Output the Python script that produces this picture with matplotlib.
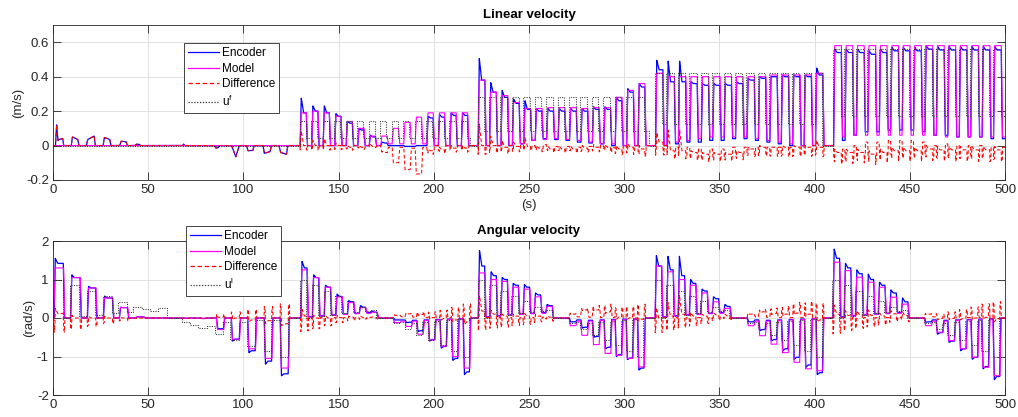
import numpy as np
import matplotlib
matplotlib.use('Agg')
import matplotlib.pyplot as plt

# ======================= DATA: linear velocity (top) =======================
# encoder trace before the pulse segments (model is 0 there)
LIN_PRE_T = [0.0, 1.3, 1.9, 2.6, 3.3, 4.6, 5.1, 5.6,
             9.6, 10.2, 13.0, 13.6,
             17.5, 18.2, 21.6, 22.2,
             26.3, 27.0, 29.8, 30.4,
             35.0, 35.8, 38.4, 39.0,
             43.0, 43.8, 45.3, 45.9,
             68.0, 68.6, 69.2,
             84.8, 85.6, 86.8, 87.4,
             93.8, 96.0, 97.8,
             101.6, 102.4, 105.0, 105.6,
             110.3, 111.0, 114.0, 114.7,
             118.7, 119.5, 122.6, 123.3,
             128.0]
LIN_PRE_V = [0, 0, 0.12, 0.03, 0.035, 0.04, 0.04, 0,
             0, 0.05, 0.035, 0,
             0, 0.035, 0.055, 0,
             0, 0.047, 0.035, 0,
             0, 0.025, 0.022, 0,
             0, 0.008, 0.007, 0,
             0, 0.008, 0,
             0, -0.015, -0.012, 0,
             0, -0.065, 0,
             0, -0.03, -0.028, 0,
             0, -0.045, -0.035, 0,
             0, -0.04, -0.05, 0,
             0]

LIN_STARTS = [
    [129.5, 135.6, 141.6, 147.7, 153.7, 159.8, 165.8, 171.9, 177.9, 184.0, 190.0, 196.1, 202.1, 208.2, 214.2],
    [223.0, 229.0, 235.0, 241.0, 247.0, 253.0, 259.0, 265.0, 271.0, 277.0, 283.0, 289.0, 295.0, 301.0, 307.0],
    [316.2, 322.2, 328.2, 334.2, 340.2, 346.2, 352.2, 358.2, 364.2, 370.2, 376.2, 382.2, 388.2, 394.2, 400.2],
    [409.7, 415.7, 421.7, 427.7, 433.7, 439.7, 445.7, 451.7, 457.7, 463.7, 469.7, 475.7, 481.7, 487.7, 493.7],
]
LIN_DUR = [3.2, 3.5, 3.8, 4.0]
LIN_U_HIGH = [0.14, 0.28, 0.42, 0.56]
LIN_U_LOW = [0.044, 0.085, 0.125, 0.17]
LIN_U_OFF = [219.0, 313.0, 404.0, 500.0]

LIN_ENC_PEAK = [
    [0.275, 0.23, 0.23, 0.185, 0.14, 0.10, 0.06, 0.02, 0.0, -0.005, 0.0, 0.17, 0.18, 0.19, 0.19],
    [0.505, 0.365, 0.32, 0.27, 0.26, 0.215, 0.215, 0.215, 0.215, 0.215, 0.225, 0.225, 0.28, 0.33, 0.36],
    [0.495, 0.49, 0.49, 0.37, 0.36, 0.36, 0.36, 0.37, 0.39, 0.40, 0.40, 0.41, 0.41, 0.41, 0.45],
    [0.56, 0.56, 0.56, 0.55, 0.56, 0.57, 0.57, 0.57, 0.58, 0.575, 0.575, 0.575, 0.575, 0.575, 0.575],
]
LIN_ENC_SETTLE = [
    [0.19, 0.20, 0.19, 0.17, 0.13, 0.09, 0.05, 0.015, 0.0, -0.005, 0.0, 0.16, 0.165, 0.175, 0.175],
    [0.38, 0.31, 0.28, 0.245, 0.21, 0.20, 0.20, 0.20, 0.20, 0.20, 0.21, 0.21, 0.26, 0.31, 0.34],
    [0.44, 0.37, 0.37, 0.36, 0.35, 0.35, 0.35, 0.36, 0.38, 0.39, 0.40, 0.40, 0.40, 0.40, 0.41],
    [0.54, 0.54, 0.54, 0.53, 0.54, 0.55, 0.55, 0.55, 0.56, 0.555, 0.555, 0.555, 0.555, 0.555, 0.555],
]
LIN_ENC_LOW = [
    [0, 0, 0, 0, 0, 0, 0, 0, 0, -0.005, 0, 0, 0, 0, 0],
    [0, 0, 0, 0.01, 0.03, 0.04, 0.035, 0.03, 0.02, 0.015, 0.01, 0, 0, 0, 0],
    [0, 0.01, 0.02, 0.02, 0.03, 0.03, 0.04, 0.04, 0.03, 0.02, 0.01, 0, 0, 0, 0],
    [0.03, 0.06, 0.08, 0.08, 0.09, 0.09, 0.09, 0.08, 0.06, 0.06, 0.05, 0.05, 0.05, 0.04, 0.04],
]
LIN_MOD_LEVEL = [
    [0.19, 0.20, 0.19, 0.17, 0.14, 0.10, 0.055, 0.055, 0.10, 0.135, 0.165, 0.19, 0.19, 0.19, 0.19],
    [0.38, 0.31, 0.29, 0.25, 0.215, 0.215, 0.22, 0.22, 0.22, 0.215, 0.22, 0.22, 0.28, 0.32, 0.36],
    [0.42, 0.40, 0.40, 0.40, 0.40, 0.40, 0.40, 0.40, 0.40, 0.40, 0.41, 0.41, 0.41, 0.41, 0.42],
    [0.58, 0.58, 0.58, 0.58, 0.58, 0.58, 0.58, 0.58, 0.58, 0.58, 0.58, 0.58, 0.58, 0.58, 0.58],
]
LIN_MOD_LOW = [
    [0, 0, 0, 0, 0, 0, 0, 0.01, 0.01, 0.01, 0.01, 0, 0, 0, 0],
    [0, 0, 0, 0.01, 0.03, 0.035, 0.04, 0.035, 0.03, 0.02, 0.01, 0.01, 0, 0, 0],
    [0, 0.02, 0.03, 0.04, 0.05, 0.05, 0.05, 0.05, 0.04, 0.03, 0.02, 0.01, 0, 0, 0],
    [0.05, 0.06, 0.06, 0.06, 0.06, 0.06, 0.06, 0.06, 0.06, 0.05, 0.05, 0.05, 0.05, 0.05, 0.05],
]

# ======================= DATA: angular velocity (bottom) =======================
ANG_U0_T = [0.2, 5.1, 8.9, 13.9, 17.7, 22.1, 26.1, 30.9, 34.4, 38.7, 42.2, 46.6, 51.0, 55.4, 59.8,
            67.7, 72.0, 76.4, 80.8, 85.2, 89.2, 93.0, 97.5, 101.9, 105.9, 110.6, 114.5, 119.0, 123.2]
ANG_U0_V = [1.0, 0.0, 0.86, 0.05, 0.71, 0.08, 0.56, 0.12, 0.42, 0.15, 0.29, 0.23, 0.19, 0.25, 0.0,
            -0.1, -0.18, -0.27, -0.22, -0.41, -0.1, -0.57, -0.1, -0.72, -0.06, -0.86, -0.05, -1.0, 0.0]

ANG_PRE_STARTS = [0.3, 9.0, 17.8, 26.2, 34.6, 43.2, 69.0, 77.5, 85.6, 93.4, 102.0, 110.7, 119.1]
ANG_PRE_DURS = [4.8, 4.9, 4.3, 4.7, 4.2, 4.2, 2.0, 2.5, 3.6, 4.1, 3.9, 3.8, 4.1]
ANG_PRE_ENC_PEAK = [1.55, 1.12, 0.82, 0.57, 0.28, 0.03, -0.01, -0.015, -0.28, -0.6, -0.9, -1.2, -1.5]
ANG_PRE_ENC_SET = [1.42, 1.05, 0.78, 0.52, 0.27, 0.03, -0.01, -0.015, -0.28, -0.55, -0.85, -1.12, -1.45]
ANG_PRE_MOD = [1.3, 1.05, 0.78, 0.52, 0.27, 0.03, -0.005, -0.01, -0.3, -0.55, -0.8, -1.05, -1.3]

ANG_POS_STARTS = [
    [129.9, 136.0, 142.2, 148.3, 154.4, 160.6, 166.7],
    [223.1, 229.2, 235.0, 240.8, 246.7, 252.5, 258.6],
    [316.0, 322.1, 328.1, 334.0, 340.0, 346.0, 352.0],
    [409.4, 415.3, 421.3, 427.3, 433.2, 439.2, 445.3],
]
ANG_NEG_STARTS = [
    [178.6, 184.7, 190.8, 196.9, 203.0, 209.1, 215.2],
    [270.9, 277.0, 283.1, 289.2, 295.0, 300.8, 306.8],
    [364.4, 370.4, 376.4, 382.4, 388.4, 394.5, 400.5],
    [457.5, 463.6, 469.7, 475.8, 481.9, 487.6, 493.5],
]
ANG_DUR = [3.2, 3.3, 3.3, 3.4]

ANG_U_POS_HIGH = [1.0, 0.86, 0.71, 0.57, 0.43, 0.29, 0.2]
ANG_U_POS_LOW = [0.0, 0.06, 0.09, 0.12, 0.15, 0.19, 0.0]
ANG_U_NEG_HIGH = [-0.14, -0.29, -0.43, -0.57, -0.71, -0.86, -1.0]
ANG_U_NEG_LOW = [-0.1, -0.14, -0.1, -0.08, -0.05, -0.03, 0.0]

ANG_ENC_POS_PEAK = [[1.47, 1.12, 0.85, 0.62, 0.45, 0.32, 0.18],
                    [1.75, 1.2, 1.05, 0.9, 0.87, 0.65, 0.35],
                    [1.62, 1.6, 1.6, 1.0, 0.75, 0.55, 0.35],
                    [1.79, 1.42, 1.25, 1.14, 0.93, 0.73, 0.52]]
ANG_ENC_POS_SET = [[1.3, 1.05, 0.8, 0.56, 0.42, 0.28, 0.15],
                   [1.35, 1.1, 1.0, 0.85, 0.8, 0.6, 0.32],
                   [1.35, 1.25, 1.1, 0.9, 0.7, 0.5, 0.3],
                   [1.55, 1.3, 1.15, 1.0, 0.85, 0.65, 0.42]]
ANG_MOD_POS = [[1.25, 1.05, 0.8, 0.55, 0.4, 0.27, 0.15],
               [1.17, 1.0, 0.95, 0.8, 0.75, 0.55, 0.3],
               [1.35, 1.2, 1.0, 0.85, 0.65, 0.42, 0.25],
               [1.45, 1.23, 1.06, 0.93, 0.8, 0.54, 0.36]]
ANG_ENC_NEG_PEAK = [[-0.05, -0.12, -0.35, -0.6, -0.78, -1.1, -1.47],
                    [-0.1, -0.26, -0.5, -0.8, -1.0, -1.08, -1.35],
                    [-0.1, -0.33, -0.59, -0.85, -1.07, -1.28, -1.47],
                    [-0.11, -0.42, -0.63, -0.85, -1.07, -1.32, -1.6]]
ANG_ENC_NEG_SET = [[-0.05, -0.11, -0.33, -0.56, -0.74, -1.05, -1.4],
                   [-0.1, -0.24, -0.48, -0.76, -0.95, -1.04, -1.3],
                   [-0.1, -0.3, -0.56, -0.8, -1.02, -1.22, -1.42],
                   [-0.1, -0.38, -0.6, -0.8, -1.02, -1.26, -1.52]]
ANG_MOD_NEG = [[-0.12, -0.22, -0.42, -0.57, -0.73, -1.0, -1.3],
               [-0.2, -0.45, -0.69, -0.92, -0.97, -1.05, -1.27],
               [-0.2, -0.46, -0.68, -0.9, -1.15, -1.32, -1.37],
               [-0.2, -0.37, -0.59, -0.8, -1.02, -1.28, -1.5]]
ANG_ENC_POS_LOW = [0.03, 0.06, 0.08, 0.1, 0.12, 0.14, 0.0]
ANG_MOD_POS_LOW = [0.02, 0.05, 0.07, 0.09, 0.11, 0.12, 0.0]
ANG_ENC_NEG_LOW = [-0.05, -0.06, -0.05, -0.04, -0.03, -0.02, 0.0]
ANG_MOD_NEG_LOW = [-0.08, -0.08, -0.06, -0.05, -0.04, -0.02, 0.0]

LEGEND_LABELS_TOP = ['Encoder', 'Model', 'Difference', 'u$^f$']
LEGEND_LABELS_BOT = ['Encoder', 'Model', 'Difference', 'u$^l$']

# ======================= helpers =======================
RISE, DECAY, FALL = 0.6, 1.2, 0.6
ENC_ON, ENC_OFF = 0.3, 0.3
LIN_MOD_ON, LIN_MOD_OFF = 0.22, 0.38
ANG_MOD_ON, ANG_MOD_OFF = 0.13, 0.47


def resp(starts, durs, peaks, settles, lows, t_on, t_off, prev=0.0):
    ts, vs = [], []
    for s, d, p, q, lo in zip(starts, durs, peaks, settles, lows):
        a = s + t_on
        b = s + d + t_off
        ts += [a, a + RISE, a + RISE + DECAY, b, b + FALL]
        vs += [prev, p, q, q, lo]
        prev = lo
    return ts, vs


def steps(starts, durs, highs, lows, prev=0.0):
    ts, vs = [], []
    for s, d, h, lo in zip(starts, durs, highs, lows):
        ts += [s, s, s + d, s + d]
        vs += [prev, h, h, lo]
        prev = lo
    return ts, vs


# ---------- build top series ----------
lin_enc_t, lin_enc_v = list(LIN_PRE_T), list(LIN_PRE_V)
lin_mod_t, lin_mod_v = [0.0], [0.0]
lin_u_t, lin_u_v = [0.0], [0.0]
for k in range(4):
    n = len(LIN_STARTS[k])
    d = [LIN_DUR[k]] * n
    t, v = resp(LIN_STARTS[k], d, LIN_ENC_PEAK[k], LIN_ENC_SETTLE[k], LIN_ENC_LOW[k], ENC_ON, ENC_OFF)
    lin_enc_t += t; lin_enc_v += v
    t, v = resp(LIN_STARTS[k], d, LIN_MOD_LEVEL[k], LIN_MOD_LEVEL[k], LIN_MOD_LOW[k],
                LIN_MOD_ON, LIN_MOD_OFF)
    lin_mod_t += t; lin_mod_v += v
    t, v = steps(LIN_STARTS[k], d, [LIN_U_HIGH[k]] * n, [LIN_U_LOW[k]] * n)
    lin_u_t += t; lin_u_v += v
    lin_u_t += [LIN_U_OFF[k], LIN_U_OFF[k]]
    lin_u_v += [LIN_U_LOW[k], 0.0 if LIN_U_OFF[k] < 500 else LIN_U_LOW[k]]
lin_enc_t.append(500.0); lin_enc_v.append(lin_enc_v[-1])
lin_mod_t.append(500.0); lin_mod_v.append(lin_mod_v[-1])

# ---------- build bottom series ----------
ang_enc_t, ang_enc_v = resp(ANG_PRE_STARTS, ANG_PRE_DURS, ANG_PRE_ENC_PEAK, ANG_PRE_ENC_SET,
                            [0.0] * len(ANG_PRE_STARTS), ENC_ON, ENC_OFF)
ang_mod_t, ang_mod_v = resp(ANG_PRE_STARTS, ANG_PRE_DURS, ANG_PRE_MOD, ANG_PRE_MOD,
                            [0.0] * len(ANG_PRE_STARTS), ANG_MOD_ON, ANG_MOD_OFF)
ang_enc_t = [0.0] + ang_enc_t; ang_enc_v = [0.0] + ang_enc_v
ang_mod_t = [0.0] + ang_mod_t; ang_mod_v = [0.0] + ang_mod_v
ang_u_t, ang_u_v = [0.0], [0.0]
prev = 0.0
for tt, vv in zip(ANG_U0_T, ANG_U0_V):
    ang_u_t += [tt, tt]; ang_u_v += [prev, vv]; prev = vv
for k in range(4):
    for st, hi, lo, ep, es, el, mv, ml in [
        (ANG_POS_STARTS[k], ANG_U_POS_HIGH, ANG_U_POS_LOW, ANG_ENC_POS_PEAK[k], ANG_ENC_POS_SET[k],
         ANG_ENC_POS_LOW, ANG_MOD_POS[k], ANG_MOD_POS_LOW),
        (ANG_NEG_STARTS[k], ANG_U_NEG_HIGH, ANG_U_NEG_LOW, ANG_ENC_NEG_PEAK[k], ANG_ENC_NEG_SET[k],
         ANG_ENC_NEG_LOW, ANG_MOD_NEG[k], ANG_MOD_NEG_LOW)]:
        d = [ANG_DUR[k]] * len(st)
        t, v = resp(st, d, ep, es, el, ENC_ON, ENC_OFF)
        ang_enc_t += t; ang_enc_v += v
        t, v = resp(st, d, mv, mv, ml, ANG_MOD_ON, ANG_MOD_OFF)
        ang_mod_t += t; ang_mod_v += v
        t, v = steps(st, d, hi, lo)
        ang_u_t += t; ang_u_v += v
ang_enc_t.append(500.0); ang_enc_v.append(0.0)
ang_mod_t.append(500.0); ang_mod_v.append(0.0)
ang_u_t.append(500.0); ang_u_v.append(0.0)

grid_t = np.linspace(0, 500, 25001)
lin_E = np.interp(grid_t, lin_enc_t, lin_enc_v)
lin_M = np.interp(grid_t, lin_mod_t, lin_mod_v)
ang_E = np.interp(grid_t, ang_enc_t, ang_enc_v)
ang_M = np.interp(grid_t, ang_mod_t, ang_mod_v)

# ======================= plotting =======================
plt.rcParams['font.family'] = ['Liberation Sans', 'DejaVu Sans']
plt.rcParams['mathtext.default'] = 'regular'

W, H = 1018, 417
fig = plt.figure(figsize=(W / 100, H / 100), dpi=100)
ax1 = fig.add_axes([53 / W, 1 - 180 / H, 952 / W, 155 / H])
ax2 = fig.add_axes([53 / W, 1 - 395 / H, 952 / W, 154 / H])

TXT = '#262626'
COLORS = ['#0000ff', '#ff00ff', '#ff0000', '#333333']
STYLES = ['-', '-', (0, (3.5, 2.2)), (0, (1, 1.3))]
WIDTHS = [0.9, 0.8, 0.75, 0.75]


def style(ax, ylim, yticks):
    ax.set_xlim(0, 500)
    ax.set_ylim(*ylim)
    ax.set_xticks(np.arange(0, 501, 50))
    ax.set_yticks(yticks)
    ax.set_yticklabels([('%g' % y) for y in yticks])
    ax.grid(True, color='#dcdcdc', linewidth=0.6)
    ax.set_axisbelow(True)
    for sp in ax.spines.values():
        sp.set_color(TXT)
        sp.set_linewidth(0.6)
    ax.tick_params(direction='in', length=6, width=0.6, colors=TXT, labelsize=9.5,
                   top=True, right=True, pad=3)


def draw(ax, E, M, ut, uv, labels, ylabel, title, leg_xy):
    h1, = ax.plot(grid_t, E, color=COLORS[0], lw=WIDTHS[0])
    h2, = ax.plot(grid_t, M, color=COLORS[1], lw=WIDTHS[1])
    h3, = ax.plot(grid_t, E - M, color=COLORS[2], lw=WIDTHS[2], linestyle=STYLES[2])
    h4, = ax.plot(ut, uv, color=COLORS[3], lw=WIDTHS[3], linestyle=STYLES[3])
    ax.set_ylabel(ylabel, fontsize=9.5, color=TXT, labelpad=1)
    ax.set_title(title, fontsize=9.5, fontweight='bold', color='#000000', pad=5)
    leg = ax.legend([h1, h2, h3, h4], labels, loc='upper left',
                    bbox_to_anchor=leg_xy, bbox_transform=fig.transFigure,
                    fontsize=8.5, frameon=True, fancybox=False, framealpha=1,
                    edgecolor='#262626', borderpad=0.35, handlelength=2.6,
                    handletextpad=0.25, labelspacing=0.3, borderaxespad=0)
    leg.get_frame().set_linewidth(0.6)
    for hl, c, s in zip(leg.legend_handles, COLORS, STYLES):
        hl.set_color(c)
        hl.set_linestyle(s)
        hl.set_linewidth(0.9)
    for t in leg.get_texts():
        t.set_color('#000000')


draw(ax1, lin_E, lin_M, lin_u_t, lin_u_v, LEGEND_LABELS_TOP, '(m/s)', 'Linear velocity',
     (184 / W, 1 - 43 / H))
style(ax1, (-0.2, 0.7), [-0.2, 0, 0.2, 0.4, 0.6])
ax1.set_xlabel('(s)', fontsize=9.5, color=TXT, labelpad=2)

draw(ax2, ang_E, ang_M, ang_u_t, ang_u_v, LEGEND_LABELS_BOT, '(rad/s)', 'Angular velocity',
     (186 / W, 1 - 226 / H))
style(ax2, (-2, 2), [-2, -1, 0, 1, 2])

fig.savefig('out.png', dpi=100)
